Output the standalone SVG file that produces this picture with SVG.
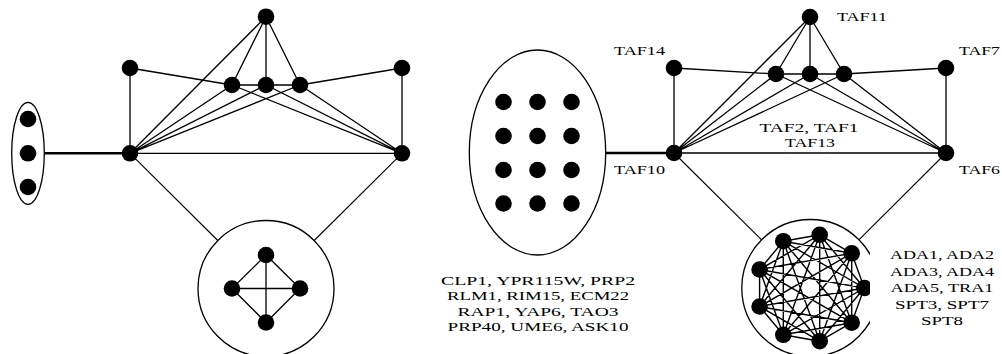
<svg xmlns="http://www.w3.org/2000/svg" width="1002" height="354" viewBox="0 0 1002 354">
<style>
.e{stroke:#000;stroke-width:1.3;fill:none;stroke-linecap:round}
.t{stroke:#000;stroke-width:1.1;fill:none}
.k{stroke:#000;stroke-width:1.4;fill:none}
.thick{stroke:#000;stroke-width:2.6;fill:none}
.n{fill:#000}
.hull{fill:none;stroke:#000;stroke-width:1.3}
text{font-family:"Liberation Serif","Times New Roman",serif;font-size:13px;fill:#000}
</style>
<defs>
<clipPath id="clipR"><rect x="700" y="200" width="170" height="160"/></clipPath>
</defs>
<rect width="1002" height="354" fill="#fff"/>

<g id="connectors">
<!-- left graph -->
<line class="thick" x1="44.3" y1="153.3" x2="130" y2="153.3"/>
<path class="e" d="M266,16.7L130,153.3 M266,16.7L232,85 M266,16.7L266,85 M266,16.7L300,85
M130,68L130,153.3 M130,68L232,85 M402,68L402,153.3 M402,68L300,85
M232,85L266,85 M266,85L300,85
M232,85L130,153.3 M266,85L130,153.3 M300,85L130,153.3
M232,85L402,153.3 M266,85L402,153.3 M300,85L402,153.3
M130,153.3L402,153.3"/>
<line class="t" x1="130" y1="153.3" x2="217.8" y2="240.5"/>
<line class="t" x1="402" y1="153.3" x2="314.2" y2="240.5"/>
<!-- right graph -->
<line class="thick" x1="605.7" y1="153" x2="674" y2="153"/>
<path class="e" d="M810,17L674,153 M810,17L776,74 M810,17L810,74 M810,17L844,74
M674,68L674,153 M674,68L776,74 M946,68L946,153 M946,68L844,74
M776,74L810,74 M810,74L844,74
M776,74L674,153 M810,74L674,153 M844,74L674,153
M776,74L946,153 M810,74L946,153 M844,74L946,153
M674,153L946,153"/>
<line class="t" x1="674" y1="153" x2="761.6" y2="239.8"/>
<line class="t" x1="946" y1="153" x2="858.9" y2="239.8"/>
</g>

<!-- left graph nodes -->
<g id="left-group3">
<ellipse class="hull" cx="28" cy="153.3" rx="16.3" ry="51"/>
<circle class="n" cx="28" cy="119" r="8.3"/>
<circle class="n" cx="28" cy="153.3" r="8.3"/>
<circle class="n" cx="28" cy="187" r="8.3"/>
</g>
<g id="left-top"><circle class="n" cx="266" cy="16.7" r="8.3"/></g>
<g id="left-ul"><circle class="n" cx="130" cy="68" r="8.3"/></g>
<g id="left-ur"><circle class="n" cx="402" cy="68" r="8.3"/></g>
<g id="left-m1"><circle class="n" cx="232" cy="85" r="8.3"/></g>
<g id="left-m2"><circle class="n" cx="266" cy="85" r="8.3"/></g>
<g id="left-m3"><circle class="n" cx="300" cy="85" r="8.3"/></g>
<g id="left-hl"><circle class="n" cx="130" cy="153.3" r="8.3"/></g>
<g id="left-hr"><circle class="n" cx="402" cy="153.3" r="8.3"/></g>
<g id="left-k4">
<circle class="hull" cx="266" cy="288.5" r="68"/>
<path class="e" d="M266,255L232,288.5L266,322.5L300,288.5Z M266,255L266,322.5 M232,288.5L300,288.5"/>
<circle class="n" cx="266" cy="255" r="8.3"/>
<circle class="n" cx="232" cy="288.5" r="8.3"/>
<circle class="n" cx="300" cy="288.5" r="8.3"/>
<circle class="n" cx="266" cy="322.5" r="8.3"/>
</g>

<!-- right graph nodes -->
<g id="right-group12">
<ellipse class="hull" cx="537.5" cy="152.5" rx="68.2" ry="102.5"/>
<circle class="n" cx="503.5" cy="102" r="8.3"/><circle class="n" cx="537.5" cy="102" r="8.3"/><circle class="n" cx="571.5" cy="102" r="8.3"/>
<circle class="n" cx="503.5" cy="136" r="8.3"/><circle class="n" cx="537.5" cy="136" r="8.3"/><circle class="n" cx="571.5" cy="136" r="8.3"/>
<circle class="n" cx="503.5" cy="170" r="8.3"/><circle class="n" cx="537.5" cy="170" r="8.3"/><circle class="n" cx="571.5" cy="170" r="8.3"/>
<circle class="n" cx="503.5" cy="203.5" r="8.3"/><circle class="n" cx="537.5" cy="203.5" r="8.3"/><circle class="n" cx="571.5" cy="203.5" r="8.3"/>
<text text-anchor="middle" x="538" y="284.5" textLength="194" lengthAdjust="spacingAndGlyphs">CLP1, YPR115W, PRP2</text>
<text text-anchor="middle" x="538" y="300" textLength="182" lengthAdjust="spacingAndGlyphs">RLM1, RIM15, ECM22</text>
<text text-anchor="middle" x="538" y="315.5" textLength="161" lengthAdjust="spacingAndGlyphs">RAP1, YAP6, TAO3</text>
<text text-anchor="middle" x="538" y="331" textLength="181" lengthAdjust="spacingAndGlyphs">PRP40, UME6, ASK10</text>
</g>
<g id="TAF11"><circle class="n" cx="810" cy="17" r="8.3"/>
<text x="837" y="21" textLength="50" lengthAdjust="spacingAndGlyphs">TAF11</text></g>
<g id="TAF14"><circle class="n" cx="674" cy="68" r="8.3"/>
<text x="614" y="55" textLength="51" lengthAdjust="spacingAndGlyphs">TAF14</text></g>
<g id="TAF7"><circle class="n" cx="946" cy="68" r="8.3"/>
<text x="959" y="55" textLength="41" lengthAdjust="spacingAndGlyphs">TAF7</text></g>
<g id="TAF2-TAF1-TAF13">
<circle class="n" cx="776" cy="74" r="8.3"/>
<circle class="n" cx="810" cy="74" r="8.3"/>
<circle class="n" cx="844" cy="74" r="8.3"/>
<text text-anchor="middle" x="809" y="131.7" textLength="99" lengthAdjust="spacingAndGlyphs">TAF2, TAF1</text>
<text text-anchor="middle" x="810" y="146.7" textLength="50" lengthAdjust="spacingAndGlyphs">TAF13</text>
</g>
<g id="TAF10"><circle class="n" cx="674" cy="153" r="8.3"/>
<text x="614" y="174" textLength="51" lengthAdjust="spacingAndGlyphs">TAF10</text></g>
<g id="TAF6"><circle class="n" cx="946" cy="153" r="8.3"/>
<text x="959" y="174" textLength="41" lengthAdjust="spacingAndGlyphs">TAF6</text></g>
<g id="SAGA-K9">
<g clip-path="url(#clipR)">
<circle class="hull" cx="810.3" cy="288" r="68.5"/>
<path class="k" d="M864.3,288L851.7,253.3 M864.3,288L819.7,234.8 M864.3,288L783.3,241.2 M864.3,288L759.6,269.5 M864.3,288L759.6,306.5 M864.3,288L783.3,334.8 M864.3,288L819.7,341.2 M864.3,288L851.7,322.7
M851.7,253.3L819.7,234.8 M851.7,253.3L783.3,241.2 M851.7,253.3L759.6,269.5 M851.7,253.3L759.6,306.5 M851.7,253.3L783.3,334.8 M851.7,253.3L819.7,341.2 M851.7,253.3L851.7,322.7
M819.7,234.8L783.3,241.2 M819.7,234.8L759.6,269.5 M819.7,234.8L759.6,306.5 M819.7,234.8L783.3,334.8 M819.7,234.8L819.7,341.2 M819.7,234.8L851.7,322.7
M783.3,241.2L759.6,269.5 M783.3,241.2L759.6,306.5 M783.3,241.2L783.3,334.8 M783.3,241.2L819.7,341.2 M783.3,241.2L851.7,322.7
M759.6,269.5L759.6,306.5 M759.6,269.5L783.3,334.8 M759.6,269.5L819.7,341.2 M759.6,269.5L851.7,322.7
M759.6,306.5L783.3,334.8 M759.6,306.5L819.7,341.2 M759.6,306.5L851.7,322.7
M783.3,334.8L819.7,341.2 M783.3,334.8L851.7,322.7
M819.7,341.2L851.7,322.7"/>
<circle class="n" cx="864.3" cy="288" r="8.3"/>
<circle class="n" cx="851.7" cy="253.3" r="8.3"/>
<circle class="n" cx="819.7" cy="234.8" r="8.3"/>
<circle class="n" cx="783.3" cy="241.2" r="8.3"/>
<circle class="n" cx="759.6" cy="269.5" r="8.3"/>
<circle class="n" cx="759.6" cy="306.5" r="8.3"/>
<circle class="n" cx="783.3" cy="334.8" r="8.3"/>
<circle class="n" cx="819.7" cy="341.2" r="8.3"/>
<circle class="n" cx="851.7" cy="322.7" r="8.3"/>
</g>
<text text-anchor="middle" x="942" y="259" textLength="104" lengthAdjust="spacingAndGlyphs">ADA1, ADA2</text>
<text text-anchor="middle" x="942" y="275.5" textLength="104" lengthAdjust="spacingAndGlyphs">ADA3, ADA4</text>
<text text-anchor="middle" x="942" y="292" textLength="103" lengthAdjust="spacingAndGlyphs">ADA5, TRA1</text>
<text text-anchor="middle" x="942" y="308.5" textLength="94" lengthAdjust="spacingAndGlyphs">SPT3, SPT7</text>
<text text-anchor="middle" x="942" y="325" textLength="42" lengthAdjust="spacingAndGlyphs">SPT8</text>
</g>
</svg>
